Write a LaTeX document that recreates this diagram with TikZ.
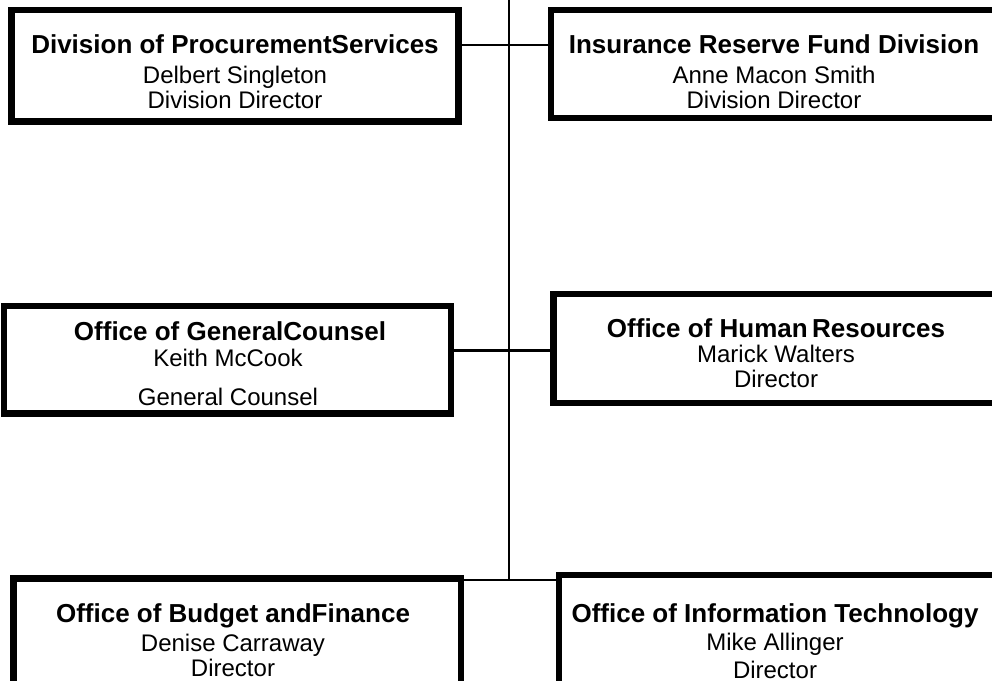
\documentclass[tikz,border=0pt]{standalone}
\usepackage{fontspec}
\setmainfont{Liberation Sans}

\tikzset{
  unitbox/.style={draw, line width=4.9pt, inner sep=0pt, outer sep=auto},
  headtext/.style={anchor=base, inner sep=0pt, font=\fontsize{19.5}{23}\selectfont\bfseries},
  nametext/.style={anchor=base, inner sep=0pt, font=\fontsize{18}{21}\selectfont},
  trunk/.style={line width=1.3pt},
  link/.style={line width=2pt},
}

\begin{document}
\begin{tikzpicture}[x=0.75pt,y=0.75pt,yscale=-1,xscale=1]
\useasboundingbox (0,0) rectangle (992,681);
\clip (0,0) rectangle (992,681);

%Shape: Rectangle [Procurement]
\node[unitbox, minimum width=335.25pt, minimum height=83.6pt] (proc) at (235,65.75) {};
%Shape: Rectangle [Insurance]
\node[unitbox, minimum width=334.5pt, minimum height=81pt] (ins) at (774,64) {};
%Shape: Rectangle [Counsel]
\node[unitbox, minimum width=335.25pt, minimum height=80.6pt] (gc) at (227.5,359.75) {};
%Shape: Rectangle [Human resources]
\node[unitbox, minimum width=334.5pt, minimum height=81.75pt] (hr) at (776.5,348.5) {};
%Shape: Rectangle [Budget]
\node[unitbox, minimum width=335.6pt, minimum height=83.6pt] (bf) at (237.25,634.25) {};
%Shape: Rectangle [Information technology]
\node[unitbox, minimum width=334.5pt, minimum height=81.75pt] (it) at (782,629.5) {};

%Straight Lines [trunk and branches]
\coordinate (top) at (509,0);
\coordinate (j1) at (509,45);
\coordinate (j2) at (509,350.5);
\coordinate (j3) at (509,580);
\draw[trunk] (top) -- (j3);
\draw[link, line width=1pt] (proc.east |- j1) -- (ins.west |- j1);
\draw[link] (gc.east |- j2) -- (hr.west |- j2);
\draw[link] (bf.east |- j3) -- (it.west |- j3);

% Text Node
\node[headtext] (procA) at (235,54) {Division of ProcurementServices};
\node[nametext] (procB) at (235,84) {Delbert Singleton};
\node[nametext] (procC) at (235,109) {Division Director};
% Text Node
\node[headtext] (insA) at (774,54) {Insurance Reserve Fund Division};
\node[nametext] (insB) at (774,84) {Anne Macon Smith};
\node[nametext] (insC) at (774,109) {Division Director};
% Text Node
\node[headtext] (gcA) at (230,340) {Office of GeneralCounsel};
\node[nametext] (gcB) at (228,366) {Keith McCook};
\node[nametext] (gcC) at (228,405) {General Counsel};
% Text Node
\node[headtext] (hrA) at (776,337) {Office of Human\,Resources};
\node[nametext] (hrB) at (776,362) {Marick Walters};
\node[nametext] (hrC) at (776,387) {Director};
% Text Node
\node[headtext] (bfA) at (233,622) {Office of Budget andFinance};
\node[nametext] (bfB) at (233,651) {Denise Carraway};
\node[nametext] (bfC) at (233,676) {Director};
% Text Node
\node[headtext] (itA) at (775,622) {Office of Information Technology};
\node[nametext] (itB) at (775,650) {Mike Allinger};
\node[nametext] (itC) at (775,678) {Director};

\end{tikzpicture}
\end{document}
